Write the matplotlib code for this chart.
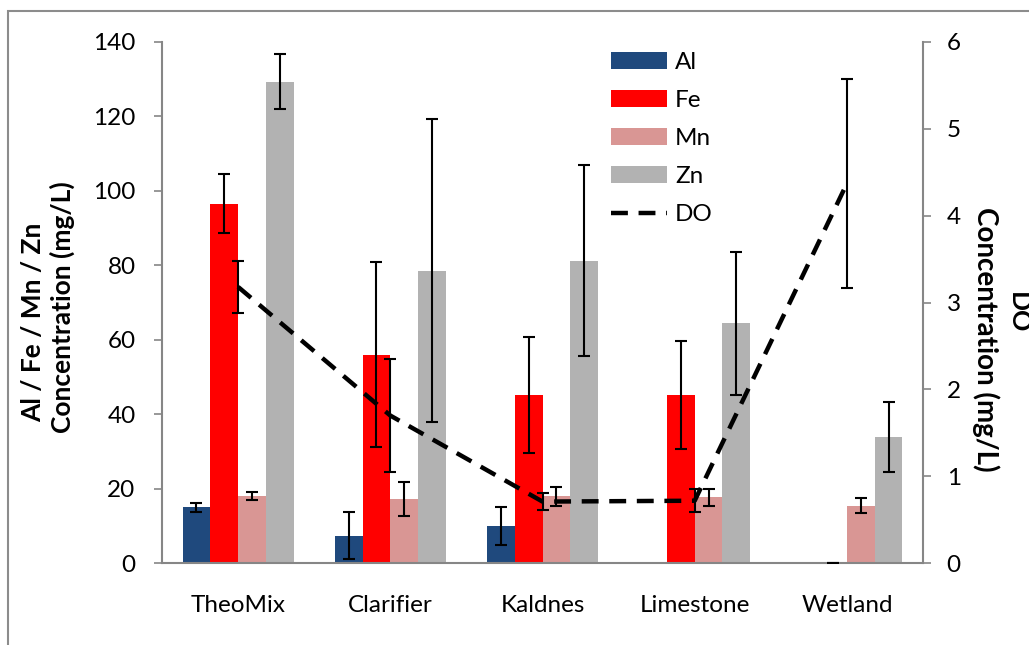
import numpy as np
import matplotlib
matplotlib.use("Agg")
import matplotlib.pyplot as plt
from matplotlib.patches import Rectangle, Patch
from matplotlib.lines import Line2D

plt.rcParams['font.family'] = ['Lato', 'DejaVu Sans']

categories = ['TheoMix', 'Clarifier', 'Kaldnes', 'Limestone', 'Wetland']
al = [15.0, 7.4, 9.9, 0.0, 0.0]
al_err = [1.1, 6.3, 5.1, np.nan, np.nan]
fe = [96.5, 56.0, 45.2, 45.2, 0.0]
fe_err = [7.9, 24.9, 15.5, 14.5, 0.0]
mn = [18.1, 17.2, 18.0, 17.7, 15.4]
mn_err = [1.15, 4.5, 2.5, 2.3, 2.0]
zn = [129.3, 78.6, 81.2, 64.5, 34.0]
zn_err = [7.3, 40.8, 25.6, 19.2, 9.4]
do = [3.18, 1.70, 0.71, 0.72, 4.37]
do_err = [0.30, 0.65, 0.10, 0.13, 1.20]

left_ticks = [0, 20, 40, 60, 80, 100, 120, 140]
right_ticks = [0, 1, 2, 3, 4, 5, 6]

W, H = 1029, 645
fig = plt.figure(figsize=(W / 100, H / 100), dpi=100)
ax = fig.add_axes([162 / W, 1 - 563.3 / H, (923 - 162) / W, (563.3 - 41.8) / H])
ax2 = ax.twinx()

colors = ['#1F497D', '#FF0000', '#D99694', '#B2B2B2']
names = ['Al', 'Fe', 'Mn', 'Zn']
series = [al, fe, mn, zn]
errs = [al_err, fe_err, mn_err, zn_err]
x = np.arange(len(categories))
bw = 0.1825
fs = 17.5
lfs = 19
gray = '#868686'

for i, (vals, e, c) in enumerate(zip(series, errs, colors)):
    xi = x + (i - 1.5) * bw
    ax.bar(xi, vals, width=bw, color=c, edgecolor='none', zorder=2)
    e = np.array(e, dtype=float)
    m = ~np.isnan(e)
    ax.errorbar(xi[m], np.array(vals)[m], yerr=e[m], fmt='none', ecolor='black',
                elinewidth=1.5, capsize=4.2, capthick=1.5, zorder=3)

ax2.plot(x, do, color='black', lw=3.2, linestyle=(0, (3.8, 2.4)), zorder=4)
ax2.errorbar(x, do, yerr=do_err, fmt='none', ecolor='black', elinewidth=1.5,
             capsize=4.2, capthick=1.5, zorder=5)

ax.set_xlim(-0.5, 4.5)
ax.set_ylim(0, 140)
ax2.set_ylim(0, 6)
ax.set_yticks(left_ticks)
ax2.set_yticks(right_ticks)
ax.set_xticks(x)
ax.set_xticklabels(categories, fontsize=fs)
ax.tick_params(axis='x', length=0, pad=23)
ax.tick_params(axis='y', direction='out', length=6, width=1.2, color=gray,
               labelsize=fs, pad=13)
ax2.tick_params(axis='y', direction='out', length=6, width=1.2, color=gray,
                labelsize=fs, pad=11)

for a in (ax, ax2):
    a.spines['top'].set_visible(False)
    for s in ('left', 'right', 'bottom'):
        a.spines[s].set_color(gray)
        a.spines[s].set_linewidth(1.5)
ax.spines['right'].set_visible(False)
ax2.spines['left'].set_visible(False)
ax2.spines['bottom'].set_visible(False)

# axis titles
fig.text(33 / W, 1 - 322 / H, 'Al / Fe / Mn / Zn', rotation=90, ha='center',
         va='center', fontsize=lfs, fontweight='bold')
fig.text(62 / W, 1 - 307 / H, 'Concentration (mg/L)', rotation=90, ha='center',
         va='center', fontsize=lfs, fontweight='bold')
fig.text(1017.5 / W, 1 - 313 / H, 'DO', rotation=270, ha='center',
         va='center', fontsize=lfs, fontweight='bold')
fig.text(986 / W, 1 - 339 / H, 'Concentration (mg/L)', rotation=270, ha='center',
         va='center', fontsize=lfs + 1, fontweight='bold')

handles = [Patch(facecolor=c, edgecolor='none') for c in colors]
handles.append(Line2D([0], [0], color='black', lw=3.2, linestyle=(0, (3.8, 2.4))))
labels = names + ['DO']
ax2.legend(handles, labels, loc='upper left',
           bbox_to_anchor=(611 / W, 1 - 52 / H), bbox_transform=fig.transFigure,
           frameon=False, fontsize=fs, handlelength=2.3, handleheight=0.66,
           handletextpad=0.33, labelspacing=0.7, borderpad=0, borderaxespad=0)

fig.patches.append(Rectangle((8 / W, -0.1), 1.2, 1.1 - 11 / H,
                             transform=fig.transFigure, fill=False,
                             edgecolor='#8C8C8C', linewidth=1.5))

fig.savefig('out.png', dpi=100)
